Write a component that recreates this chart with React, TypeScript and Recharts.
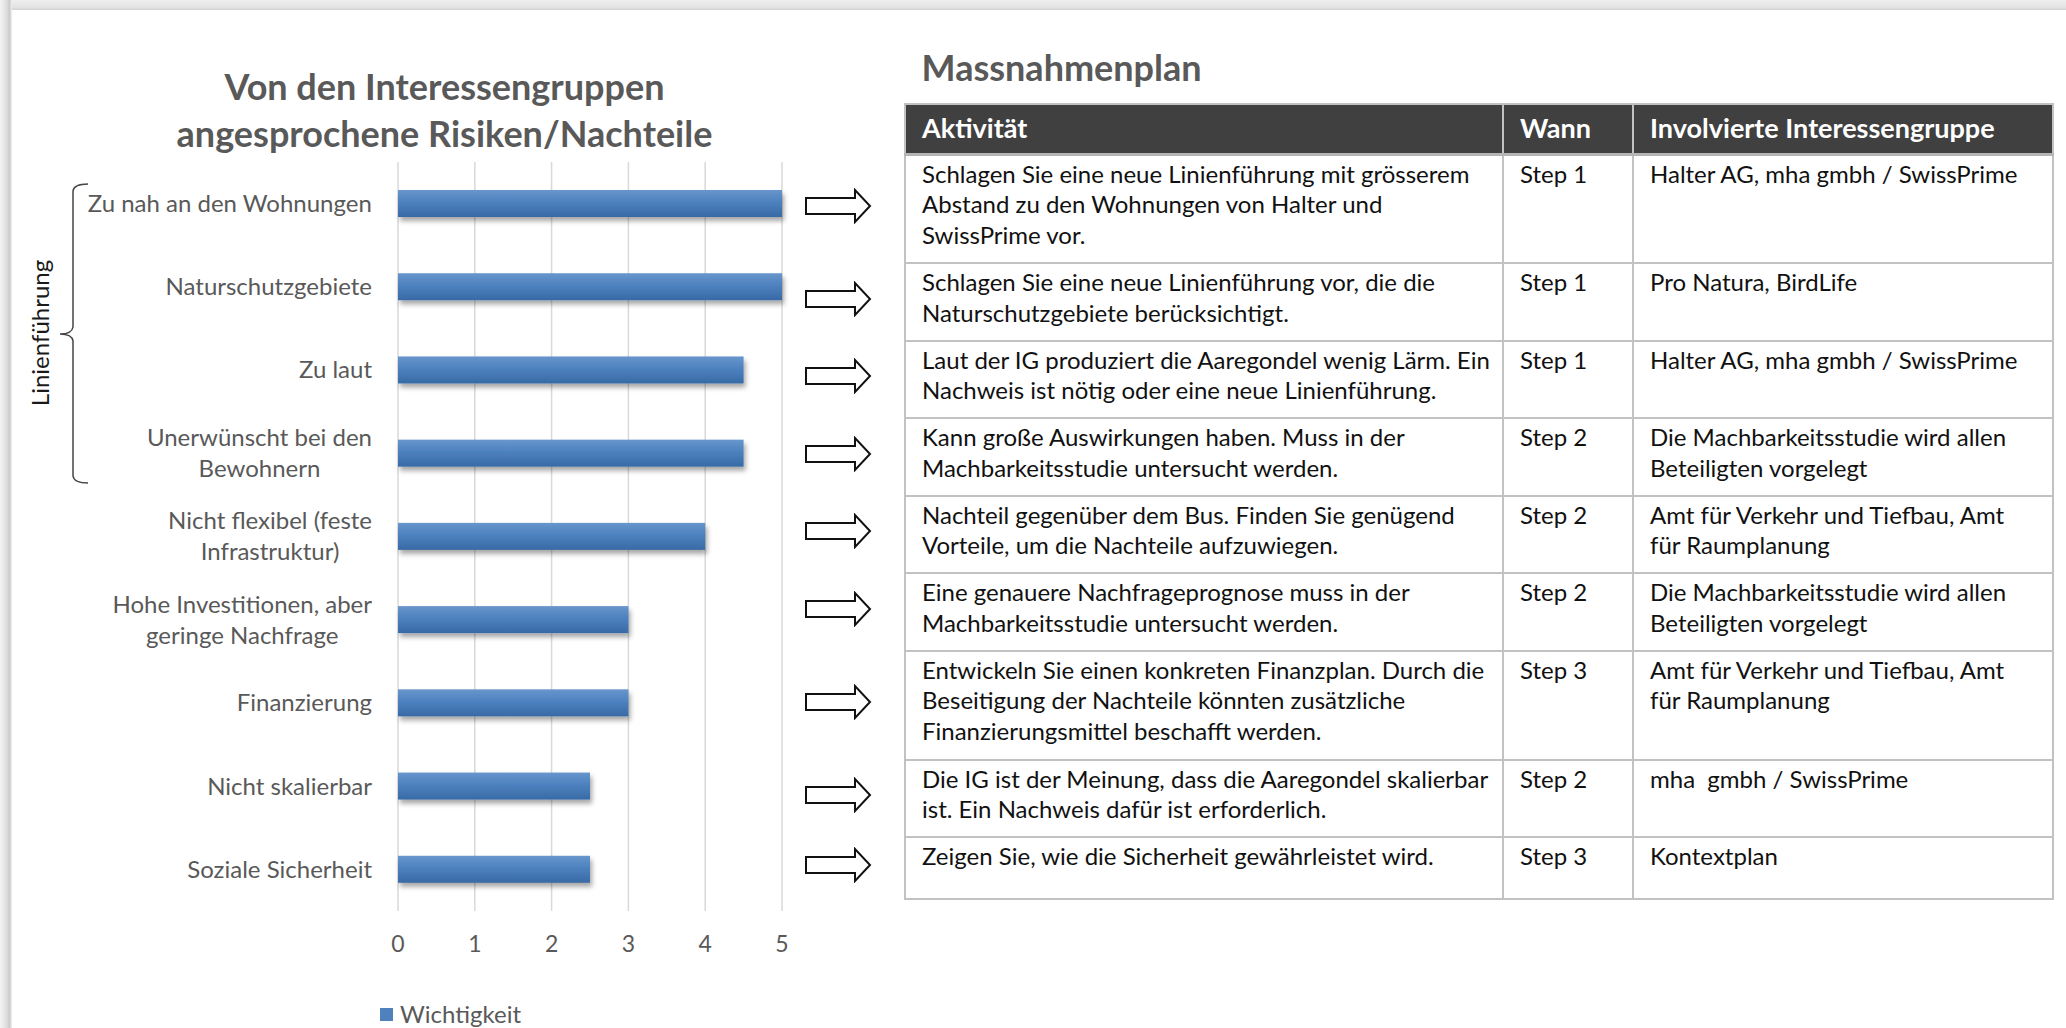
import React from 'react';
import { BarChart, Bar, XAxis, YAxis, CartesianGrid, Legend } from 'recharts';

// chart data
const categories = [
  'Zu nah an den Wohnungen',
  'Naturschutzgebiete',
  'Zu laut',
  'Unerwünscht bei den\nBewohnern',
  'Nicht flexibel (feste\nInfrastruktur)',
  'Hohe Investitionen, aber\ngeringe Nachfrage',
  'Finanzierung',
  'Nicht skalierbar',
  'Soziale Sicherheit',
];
const wichtigkeit = [5, 5, 4.5, 4.5, 4, 3, 3, 2.5, 2.5];
const xTicks = [0, 1, 2, 3, 4, 5];

// table data
const activities = [
  ['Schlagen Sie eine neue Linienführung mit grösserem', 'Abstand zu den Wohnungen von Halter und', 'SwissPrime vor.'],
  ['Schlagen Sie eine neue Linienführung vor, die die', 'Naturschutzgebiete berücksichtigt.'],
  ['Laut der IG produziert die Aaregondel wenig Lärm. Ein', 'Nachweis ist nötig oder eine neue Linienführung.'],
  ['Kann große Auswirkungen haben. Muss in der', 'Machbarkeitsstudie untersucht werden.'],
  ['Nachteil gegenüber dem Bus. Finden Sie genügend', 'Vorteile, um die Nachteile aufzuwiegen.'],
  ['Eine genauere Nachfrageprognose muss in der', 'Machbarkeitsstudie untersucht werden.'],
  ['Entwickeln Sie einen konkreten Finanzplan. Durch die', 'Beseitigung der Nachteile könnten zusätzliche', 'Finanzierungsmittel beschafft werden.'],
  ['Die IG ist der Meinung, dass die Aaregondel skalierbar', 'ist. Ein Nachweis dafür ist erforderlich.'],
  ['Zeigen Sie, wie die Sicherheit gewährleistet wird.'],
];
const steps = ['Step 1', 'Step 1', 'Step 1', 'Step 2', 'Step 2', 'Step 2', 'Step 3', 'Step 2', 'Step 3'];
const groups = [
  ['Halter AG, mha gmbh / SwissPrime'],
  ['Pro Natura, BirdLife'],
  ['Halter AG, mha gmbh / SwissPrime'],
  ['Die Machbarkeitsstudie wird allen', 'Beteiligten vorgelegt'],
  ['Amt für Verkehr und Tiefbau, Amt', 'für Raumplanung'],
  ['Die Machbarkeitsstudie wird allen', 'Beteiligten vorgelegt'],
  ['Amt für Verkehr und Tiefbau, Amt', 'für Raumplanung'],
  ['mha  gmbh / SwissPrime'],
  ['Kontextplan'],
];
const headers = ['Aktivität', 'Wann', 'Involvierte Interessengruppe'];

const chartData = categories.map((name, i) => ({ name, value: wichtigkeit[i] }));

const FONT = 'Lato, "Open Sans", "Liberation Sans", sans-serif';
const GREY = '#595959';
const LABEL_RIGHT = 372;
const LABEL_SIZE = 24;

let ctx: CanvasRenderingContext2D | null = null;
function textWidth(t: string) {
  if (!ctx) ctx = document.createElement('canvas').getContext('2d');
  if (!ctx) return t.length * LABEL_SIZE * 0.5;
  ctx.font = `${LABEL_SIZE}px Lato`;
  return ctx.measureText(t).width;
}

const CategoryTick = ({ y, payload }: any) => {
  const lines = String(payload.value).split('\n');
  const w = Math.max(...lines.map(textWidth));
  const cx = LABEL_RIGHT - w / 2;
  const lh = 31;
  const y0 = y - ((lines.length - 1) * lh) / 2;
  return (
    <g>
      {lines.map((l, i) => (
        <text key={i} x={cx} y={y0 + i * lh} dy="0.35em" textAnchor="middle" fontFamily={FONT} fontSize={LABEL_SIZE} fill={GREY}>
          {l}
        </text>
      ))}
    </g>
  );
};

const ValueTick = ({ x, y, payload }: any) => (
  <text x={x} y={y + 41} textAnchor="middle" fontFamily={FONT} fontSize={23} fill={GREY}>
    {payload.value}
  </text>
);

const BarShape = ({ x, y, width, height }: any) => (
  <rect x={x} y={y} width={width} height={height} fill="url(#barGrad)" filter="url(#barShadow)" />
);

const LegendContent = () => (
  <div style={{ display: 'flex', alignItems: 'center', fontFamily: FONT, fontSize: 24, lineHeight: '24px', color: GREY, whiteSpace: 'nowrap' }}>
    <span style={{ display: 'inline-block', width: 13, height: 13, background: '#4f81bd', marginRight: 7 }} />
    Wichtigkeit
  </div>
);

const Arrow = () => (
  <svg width={70} height={36} style={{ display: 'block', position: 'relative', top: -3 }}>
    <path d="M1 10 L50 10 L50 2 L65 18 L50 34 L50 26 L1 26 Z" fill="#fff" stroke="#111" strokeWidth={2} strokeLinejoin="miter" />
  </svg>
);

const rowHeight = (lines: number) => (lines >= 3 ? 109 : lines === 2 ? 77.5 : 62);

const cellBorder = '2px solid #c2c2c2';

export default function App() {
  return (
    <div style={{ position: 'absolute', left: 0, top: 0, width: 2066, height: 1028, background: '#fff', overflow: 'hidden', fontFamily: FONT }}>
      {/* frame shadow */}
      <div style={{ position: 'absolute', left: 0, top: 0, width: 2066, height: 10, background: 'linear-gradient(to bottom, #eeeeee, #e4e4e4 70%, #d2d2d2)' }} />
      <div style={{ position: 'absolute', left: 0, top: 0, width: 12, height: 1028, background: 'linear-gradient(to right, #f4f4f4, #dedede 55%, #cbcbcb 80%, #f2f2f2)' }} />

      <div style={{ position: 'absolute', left: 0, top: 0 }}>
        <BarChart width={900} height={1028} data={chartData} layout="vertical" margin={{ top: 162, right: 118, bottom: 57, left: 0 }}>
          <defs>
            <linearGradient id="barGrad" x1="0" y1="0" x2="0" y2="1">
              <stop offset="0%" stopColor="#6896cc" />
              <stop offset="45%" stopColor="#4d81bf" />
              <stop offset="100%" stopColor="#386aa5" />
            </linearGradient>
            <filter id="barShadow" x="-5%" y="-30%" width="115%" height="190%">
              <feDropShadow dx="2" dy="4" stdDeviation="2.5" floodColor="#000" floodOpacity="0.35" />
            </filter>
          </defs>
          <CartesianGrid horizontal={false} stroke="#d9d9d9" strokeWidth={1.5} />
          <XAxis type="number" domain={[0, 5]} ticks={xTicks} interval={0} axisLine={false} tickLine={false} tickSize={0} tickMargin={0} height={60} tick={<ValueTick />} />
          <YAxis type="category" dataKey="name" width={398} interval={0} axisLine={false} tickLine={false} tick={<CategoryTick />} />
          <Bar dataKey="value" name="Wichtigkeit" barSize={27} shape={<BarShape />} isAnimationActive={false} />
          <Legend layout="horizontal" verticalAlign="middle" align="center" wrapperStyle={{ position: 'absolute', left: 380, top: 1002, width: 'auto' }} content={<LegendContent />} />
        </BarChart>
      </div>

      {/* titles and bracket */}
      <svg width={2066} height={1028} style={{ position: 'absolute', left: 0, top: 0, pointerEvents: 'none' }}>
        <text x={444.5} y={100} textAnchor="middle" fontFamily={FONT} fontWeight={700} fontSize={36} fill={GREY}>Von den Interessengruppen</text>
        <text x={444.5} y={146.7} textAnchor="middle" fontFamily={FONT} fontWeight={700} fontSize={36} fill={GREY}>angesprochene Risiken/Nachteile</text>
        <text x={921.6} y={81} fontFamily={FONT} fontWeight={700} fontSize={36} fill={GREY}>Massnahmenplan</text>
        <path d="M88 184 Q74 184 73 191 L73 327 Q72 334 60 334 Q72 334 73 341 L73 476 Q74 483 88 483" fill="none" stroke="#444" strokeWidth={1.5} />
        <text transform="translate(49,333) rotate(-90)" x={0} y={0} textAnchor="middle" fontFamily={FONT} fontSize={24} fill="#1a1a1a">Linienführung</text>
      </svg>

      {/* action table */}
      <table style={{ position: 'absolute', left: 800, top: 103, width: 1253, borderCollapse: 'collapse', tableLayout: 'fixed', fontFamily: FONT, fontSize: 24, lineHeight: '30.7px', color: '#111' }}>
        <colgroup>
          <col style={{ width: 105 }} />
          <col style={{ width: 598 }} />
          <col style={{ width: 130 }} />
          <col style={{ width: 420 }} />
        </colgroup>
        <thead>
          <tr style={{ height: 50 }}>
            <th style={{ border: 'none', padding: 0 }} />
            {headers.map((h) => (
              <th key={h} style={{ background: '#404040', color: '#fff', border: cellBorder, borderBottom: '3px solid #b5b5b5', textAlign: 'left', padding: '0 8px 0 16px', fontSize: 27, fontWeight: 700, verticalAlign: 'middle', whiteSpace: 'nowrap' }}>
                {h}
              </th>
            ))}
          </tr>
        </thead>
        <tbody>
          {activities.map((act, i) => {
            const lines = Math.max(act.length, groups[i].length);
            const td: React.CSSProperties = { border: cellBorder, padding: '3px 8px 0 16px', verticalAlign: 'top', whiteSpace: 'pre' };
            return (
              <tr key={i} style={{ height: rowHeight(lines) }}>
                <td style={{ border: 'none', padding: '0 0 0 5px', verticalAlign: 'middle' }}>
                  <Arrow />
                </td>
                <td style={td}>{act.map((l, j) => <div key={j}>{l}</div>)}</td>
                <td style={td}>{steps[i]}</td>
                <td style={td}>{groups[i].map((l, j) => <div key={j}>{l}</div>)}</td>
              </tr>
            );
          })}
        </tbody>
      </table>
    </div>
  );
}
